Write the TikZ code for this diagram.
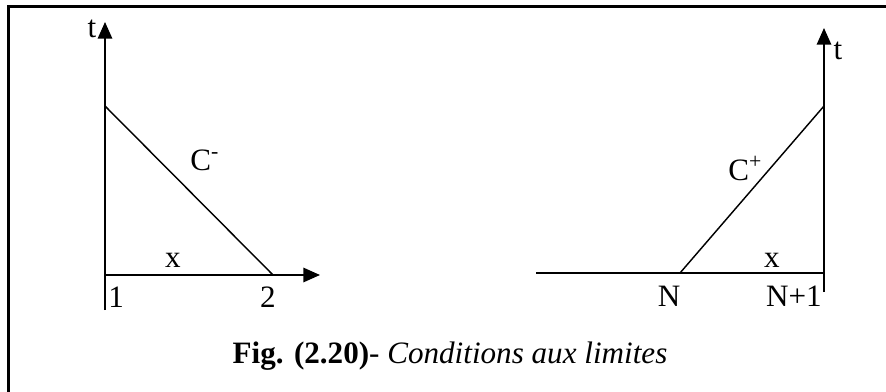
\documentclass[tikz,border=0pt,12pt]{standalone}
\usepackage{fontspec}
\setmainfont{Liberation Serif}
\usepackage{xcolor}
\usepackage{tikz}
\usetikzlibrary{positioning, arrows.meta}
\tikzset{
  axisline/.style={line width=0.75pt, -{Triangle[length=7.5pt, width=6.5pt]}},
  charline/.style={line width=0.65pt},
  framel/.style={line width=1pt},
  lbl/.style={anchor=base, inner sep=0pt, font=\fontsize{14}{16}\selectfont},
}

\begin{document}
\begin{tikzpicture}[x=0.45pt, y=-0.45pt]
  \useasboundingbox (0,0) rectangle (886,392);
  % frame
  \coordinate (fbl) at (8.5,420);
  \coordinate (ftl) at (8.5,6.5);
  \coordinate (ftr) at (910,6.5);
  \draw[framel] (fbl) -- (ftl) -- (ftr);
  % left boundary
  \coordinate (lBot) at (105,310);
  \coordinate (lO) at (105,275);
  \coordinate (lT) at (105,22);
  \coordinate (lX) at (320,275);
  \coordinate (lCa) at (105,106);
  \coordinate (lCb) at (273,275);
  \draw[axisline] (lBot) -- (lT);
  \draw[axisline] (lO) -- (lX);
  \draw[charline] (lCa) -- (lCb);
  \node[lbl] (lTlab) at (92,38) {t};
  \node[lbl, anchor=base west] (lClab) at (190,170) {C\textsuperscript{-}};
  \node[lbl] (lXlab) at (173,267) {x};
  \node[lbl, anchor=base west] (lOne) at (108,307) {1};
  \node[lbl] (lTwo) at (268,307) {2};
  % right boundary
  \coordinate (rBot) at (824,292);
  \coordinate (rO) at (824,273);
  \coordinate (rT) at (824,28);
  \coordinate (rL) at (536,273);
  \coordinate (rCa) at (680,273);
  \coordinate (rCb) at (824,106);
  \draw[axisline] (rBot) -- (rT);
  \draw[line width=0.75pt] (rL) -- (rO);
  \draw[charline] (rCa) -- (rCb);
  \node[lbl] (rTlab) at (838,59) {t};
  \node[lbl, anchor=base west] (rClab) at (728,180) {C\textsuperscript{+}};
  \node[lbl] (rXlab) at (772,267) {x};
  \node[lbl] (rN) at (669,306) {N};
  \node[lbl] (rNone) at (794,306) {N+1};
  % caption
  \node[lbl] (caption) at (450,363) {\textbf{Fig. (2.20)}- \textit{Conditions aux limites}};
\end{tikzpicture}
\end{document}
